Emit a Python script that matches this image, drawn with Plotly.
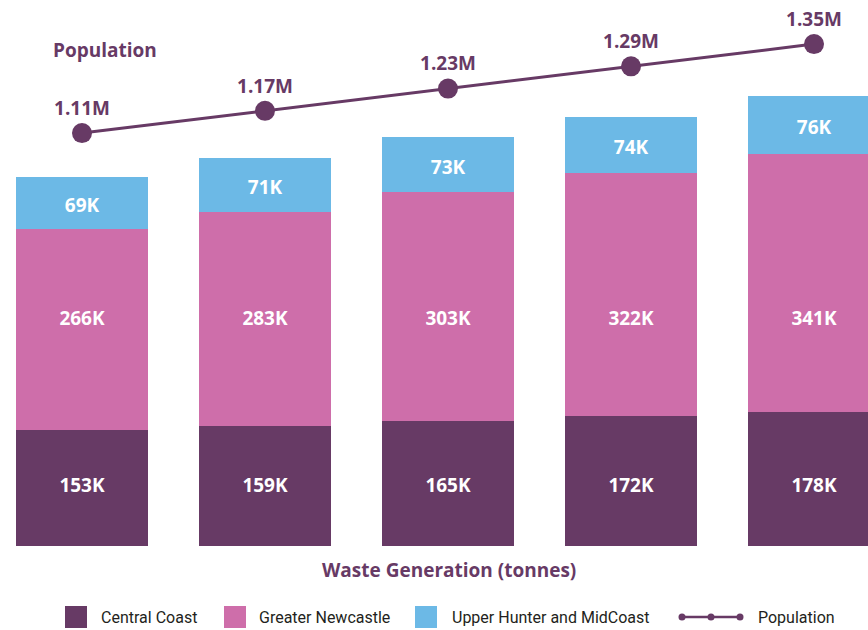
import plotly.graph_objects as go

# Waste generation by region (thousand tonnes) and population (millions)
periods = ["P1", "P2", "P3", "P4", "P5"]
central_coast = [153, 159, 165, 172, 178]
greater_newcastle = [266, 283, 303, 322, 341]
upper_hunter = [69, 71, 73, 74, 76]
population = [1.11, 1.17, 1.23, 1.29, 1.35]

PURPLE = "#673A65"
PINK = "#CE6EAA"
BLUE = "#6CB9E6"
BOLD = dict(family="Open Sans, Noto Sans, sans-serif", weight=700)
LEG_FONT = dict(family="Roboto, sans-serif", size=16, color="#231F20")

W, H = 868, 630
B = 84                      # bottom margin in px
PH = H - B                  # plot-area height in px
Y_MAX = 722.7               # thousand tonnes shown over the plot height

xs = list(range(len(periods)))

fig = go.Figure()

for name, vals, color in [
    ("Central Coast", central_coast, PURPLE),
    ("Greater Newcastle", greater_newcastle, PINK),
    ("Upper Hunter and MidCoast", upper_hunter, BLUE),
]:
    fig.add_trace(go.Bar(
        x=xs, y=vals, name=name, marker=dict(color=color, line=dict(width=0)),
        width=0.721, hoverinfo="skip", showlegend=False,
    ))

# Value labels: the two lower rows sit on common baselines, the top row
# is centred in its segment
def px_to_val(px_from_bottom):
    return px_from_bottom / PH * Y_MAX

rows = [
    ([px_to_val(59)] * len(xs), central_coast),
    ([px_to_val(226)] * len(xs), greater_newcastle),
    ([c + g + u / 2 - px_to_val(4) for c, g, u in
      zip(central_coast, greater_newcastle, upper_hunter)], upper_hunter),
]
for ys, vals in rows:
    fig.add_trace(go.Scatter(
        x=xs, y=ys, mode="text", text=[f"{v}K" for v in vals],
        textposition="middle center",
        textfont=dict(color="white", size=19, **BOLD),
        hoverinfo="skip", showlegend=False,
    ))

fig.add_trace(go.Scatter(
    x=xs, y=population, name="Population", yaxis="y2",
    mode="lines+markers+text",
    line=dict(color=PURPLE, width=3),
    marker=dict(color=PURPLE, size=20),
    text=[f"{v:.2f}M" for v in population],
    textposition="top center",
    textfont=dict(color=PURPLE, size=19, **BOLD),
    cliponaxis=False, showlegend=False, hoverinfo="skip",
))

# Helpers for pixel placement in paper coordinates
def px(x):
    return x / W

def py(y):
    return (PH - y) / PH

shapes = []
annotations = [
    dict(text="Population", x=px(105), y=py(50), xanchor="center", yanchor="middle",
         font=dict(color=PURPLE, size=19, **BOLD)),
    dict(text="Waste Generation (tonnes)", x=px(449), y=py(570), xanchor="center",
         yanchor="middle", font=dict(color=PURPLE, size=19, **BOLD)),
]

# Legend row
LEG_Y = 617
for x0, color, label, tx in [
    (65, PURPLE, "Central Coast", 99),
    (224, PINK, "Greater Newcastle", 257),
    (415, BLUE, "Upper Hunter and MidCoast", 450),
]:
    shapes.append(dict(type="rect", xref="paper", yref="paper",
                       x0=px(x0), x1=px(x0 + 22), y0=py(LEG_Y - 11), y1=py(LEG_Y + 11),
                       fillcolor=color, line=dict(width=0)))
    annotations.append(dict(text=label, x=px(tx), y=py(LEG_Y), xanchor="left",
                            yanchor="middle", font=LEG_FONT))
shapes.append(dict(type="line", xref="paper", yref="paper",
                   x0=px(681), x1=px(741), y0=py(LEG_Y), y1=py(LEG_Y),
                   line=dict(color=PURPLE, width=2.5)))
for cx in (682, 711, 740):
    shapes.append(dict(type="circle", xref="paper", yref="paper",
                       x0=px(cx - 3.5), x1=px(cx + 3.5), y0=py(LEG_Y - 3.5), y1=py(LEG_Y + 3.5),
                       fillcolor=PURPLE, line=dict(width=0)))
annotations.append(dict(text="Population", x=px(756), y=py(LEG_Y), xanchor="left",
                        yanchor="middle", font=LEG_FONT))

for a in annotations:
    a.update(xref="paper", yref="paper", showarrow=False)

fig.update_layout(
    width=W, height=H,
    margin=dict(l=0, r=0, t=0, b=B, autoexpand=False),
    paper_bgcolor="white", plot_bgcolor="white",
    barmode="stack",
    showlegend=False,
    xaxis=dict(range=[-0.448, 4.295], visible=False, fixedrange=True),
    yaxis=dict(range=[0, Y_MAX], visible=False, fixedrange=True),
    yaxis2=dict(range=[-0.004, 1.469], overlaying="y", visible=False, fixedrange=True),
    shapes=shapes,
    annotations=annotations,
)

fig.write_html("out.html")
